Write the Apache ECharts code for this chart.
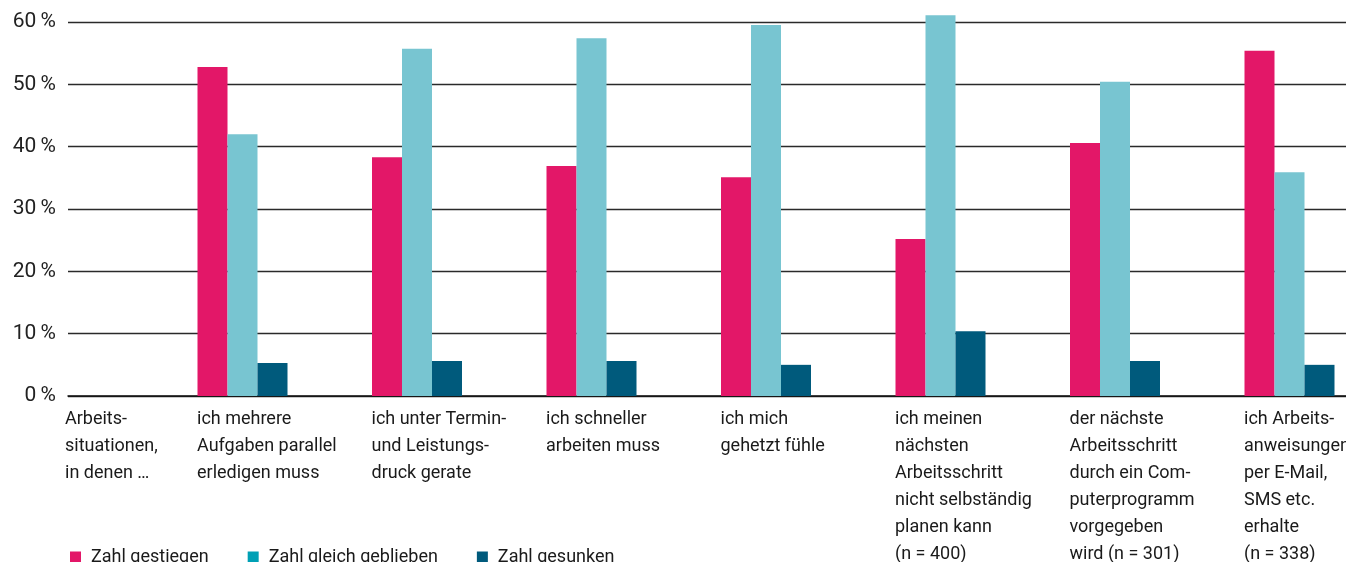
<!DOCTYPE html>
<html>
<head>
<meta charset="utf-8">
<script src="https://cdn.jsdelivr.net/npm/echarts@6/dist/echarts.min.js"></script>
<style>
  html, body { margin: 0; padding: 0; background: #fff; }
  #chart { width: 1346px; height: 562px; }
</style>
</head>
<body>
<div id="chart"></div>
<script>
// Kategorien (erste = Einleitungstext, letzte = leerer Platzhalter rechts)
const categories = [
  'Arbeits-\nsituationen,\nin denen …',
  'ich mehrere\nAufgaben parallel\nerledigen muss',
  'ich unter Termin-\nund Leistungs-\ndruck gerate',
  'ich schneller\narbeiten muss',
  'ich mich\ngehetzt fühle',
  'ich meinen\nnächsten\nArbeitsschritt\nnicht selbständig\nplanen kann\n(n = 400)',
  'der nächste\nArbeitsschritt\ndurch ein Com-\nputerprogramm\nvorgegeben\nwird (n = 301)',
  'ich Arbeits-\nanweisungen\nper E-Mail,\nSMS etc.\nerhalte\n(n = 338)',
  ''
];
const gestiegen = ['-', 52.8, 38.3, 36.9, 35.1, 25.2, 40.6, 55.4, '-'];
const gleich = ['-', 42.0, 55.7, 57.4, 59.5, 61.1, 50.4, 35.9, '-'];
const gesunken = ['-', 5.3, 5.6, 5.6, 5.0, 10.4, 5.6, 5.0, '-'];
const yTicks = [0, 10, 20, 30, 40, 50, 60];

const FONT = 'Roboto, "Liberation Sans", sans-serif';
const chart = echarts.init(document.getElementById('chart'));

const option = {
  animation: false,
  grid: { left: 68, right: -118, top: 22, bottom: 166, containLabel: false, outerBoundsMode: 'none' },
  legend: {
    left: 65,
    top: 543,
    itemWidth: 11,
    itemHeight: 11,
    itemGap: 39,
    icon: 'rect',
    textStyle: { fontFamily: FONT, fontSize: 18, color: '#1a1a1a', padding: [0, 0, 0, 5] },
    data: [
      { name: 'Zahl gestiegen' },
      { name: 'Zahl gleich geblieben', itemStyle: { color: '#00A0B5' } },
      { name: 'Zahl gesunken' }
    ]
  },
  xAxis: {
    type: 'category',
    data: categories,
    boundaryGap: false,
    axisLine: { lineStyle: { color: '#111', width: 1.5 } },
    axisTick: { show: false },
    axisLabel: {
      interval: 0,
      margin: 10,
      formatter: function (v, i) {
        const tag = i === 0 ? 'f' : 'a';
        return v.split('\n').map(function (l) { return '{' + tag + '|' + l + '}'; }).join('\n');
      },
      rich: {
        a: { width: 91, align: 'left', fontFamily: FONT, fontSize: 18, lineHeight: 27, color: '#1a1a1a' },
        f: { width: 6, align: 'left', fontFamily: FONT, fontSize: 18, lineHeight: 27, color: '#1a1a1a' }
      }
    }
  },
  yAxis: {
    type: 'value',
    min: yTicks[0],
    max: yTicks[yTicks.length - 1],
    interval: 10,
    axisLine: { show: false },
    axisTick: { show: false },
    axisLabel: {
      margin: 12,
      fontFamily: FONT,
      fontSize: 21,
      color: '#222',
      formatter: function (v) { return v + '\u2009%'; }
    },
    splitLine: { lineStyle: { color: '#2a2a2a', width: 1.3 } }
  },
  series: [
    { name: 'Zahl gestiegen', type: 'bar', data: gestiegen, barWidth: 30, barGap: '0%', clip: false,
      itemStyle: { color: '#E31768' } },
    { name: 'Zahl gleich geblieben', type: 'bar', data: gleich, barWidth: 30, barGap: '0%', clip: false,
      itemStyle: { color: '#78C5D1' } },
    { name: 'Zahl gesunken', type: 'bar', data: gesunken, barWidth: 30, barGap: '0%', clip: false,
      itemStyle: { color: '#005A7C' } }
  ]
};
chart.setOption(option);
</script>
</body>
</html>
